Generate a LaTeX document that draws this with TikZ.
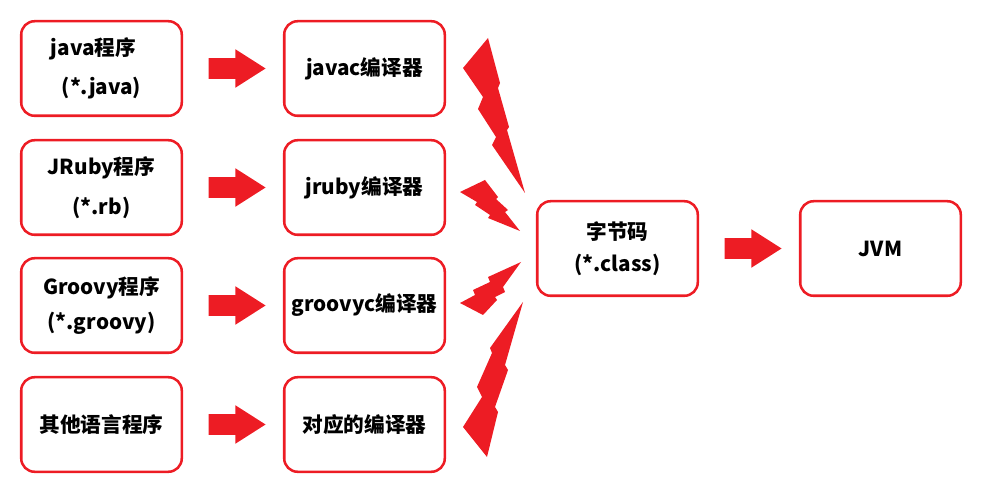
\documentclass[tikz,border=0pt]{standalone}
\usepackage{fontspec}
\setmainfont{Noto Sans CJK SC}
\usetikzlibrary{shapes.arrows,calc}
\definecolor{jvmred}{RGB}{237,28,36}

\begin{document}
\begin{tikzpicture}[x=0.75pt, y=-0.75pt, font=\fontsize{15.5}{18}\selectfont\bfseries]
\tikzset{
  srcbox/.style={draw=jvmred, line width=1.9pt, rounded corners=10pt, minimum width=120.4pt, minimum height=70.9pt, align=center, inner sep=0pt},
  fatarrow/.style={single arrow, fill=jvmred, draw=none, minimum height=42.75pt, inner xsep=0pt, inner ysep=7.5pt, single arrow head extend=6.75pt, single arrow tip angle=65},
  bolt/.style={fill=jvmred, draw=none}
}
\useasboundingbox (0,0) rectangle (986,495);

% source programs
\node[srcbox] (java)   at (101.5,68.5)  {java程序\hspace*{12pt}\\[11pt](*.java)};
\node[srcbox] (jruby)  at (101.5,187.5) {JRuby程序\\[12pt](*.rb)};
\node[srcbox] (groovy) at (101.5,305.5) {Groovy程序\\[8pt](*.groovy)};
\node[srcbox] (other)  at (101.5,424.5) {其他语言程序};

% compilers
\node[srcbox] (javac)   at (364.5,68.5)  {javac编译器};
\node[srcbox] (jrubyc)  at (364.5,187.5) {jruby编译器};
\node[srcbox] (groovyc) at (364.5,305.5) {groovyc编译器};
\node[srcbox] (otherc)  at (364.5,424.5) {对应的编译器};

\node[srcbox] (bytecode) at (617.5,248.5) {字节码\\[6pt](*.class)};
\node[srcbox] (jvm)      at (880.5,248.5) {JVM};

\foreach \a/\b in {java/javac, jruby/jrubyc, groovy/groovyc, other/otherc, bytecode/jvm}
  \node[fatarrow] (\a-\b) at ($(\a.east)!0.5!(\b.west)+(-4,0)$) {};

% lightning bolts
\fill[bolt] (488,38) -- (500,83) -- (498,88) -- (509,127) -- (507,130) -- (525,193)
  -- (492,145) -- (496,137) -- (478,109) -- (483,97) -- (463,68) -- cycle;
\fill[bolt] (460,192) -- (485,180) -- (498,197) -- (496,199) -- (508,210) -- (505,212)
  -- (520,231) -- (488,218) -- (490,215) -- (475,205) -- (477,202) -- cycle;
\fill[bolt] (521,262) -- (488,277) -- (490,282) -- (473,290) -- (475,295) -- (460,303)
  -- (483,315) -- (497,300) -- (495,297) -- (505,292) -- (503,287) -- cycle;
\fill[bolt] (523,302) -- (490,348) -- (492,353) -- (477,387) -- (482,397) -- (463,427)
  -- (487,457) -- (498,412) -- (495,407) -- (508,370) -- (505,365) -- cycle;
\end{tikzpicture}
\end{document}
